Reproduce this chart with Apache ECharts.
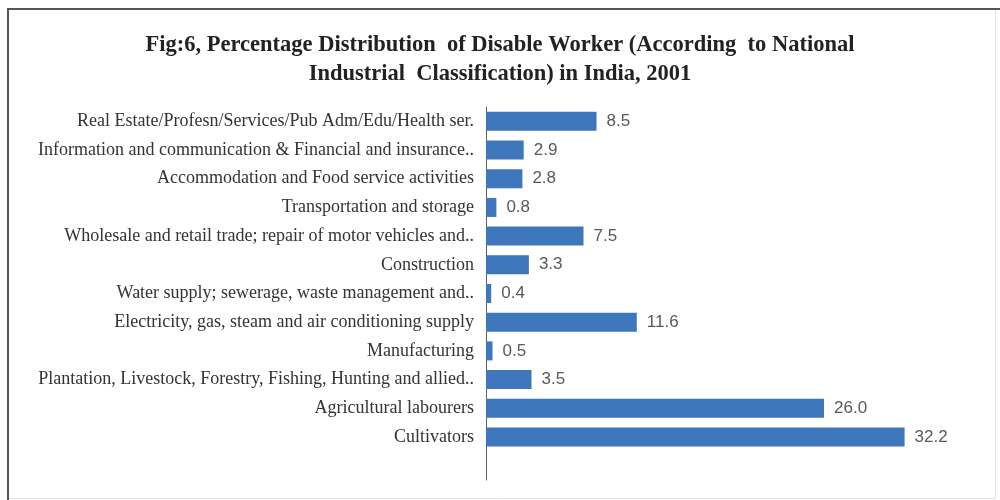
<!DOCTYPE html>
<html>
<head>
<meta charset="utf-8">
<script src="https://cdn.jsdelivr.net/npm/echarts@6/dist/echarts.min.js"></script>
<style>
  html, body { margin: 0; padding: 0; background: #fff; }
  #chart { width: 1000px; height: 500px; }
</style>
</head>
<body>
<div id="chart"></div>
<script>
// categories, top to bottom (last one is the empty slot Excel leaves at the bottom)
const categories = [
  'Real Estate/Profesn/Services/Pub Adm/Edu/Health ser.',
  'Information and communication & Financial and insurance..',
  'Accommodation and Food service activities',
  'Transportation and storage',
  'Wholesale and retail trade; repair of motor vehicles and..',
  'Construction',
  'Water supply; sewerage, waste management and..',
  'Electricity, gas, steam and air conditioning supply',
  'Manufacturing',
  'Plantation, Livestock, Forestry, Fishing, Hunting and allied..',
  'Agricultural labourers',
  'Cultivators',
  ''
];
const percentValues = [8.5, 2.9, 2.8, 0.8, 7.5, 3.3, 0.4, 11.6, 0.5, 3.5, 26.0, 32.2, null];

const titleLines = [
  'Fig:6, Percentage Distribution  of Disable Worker (According  to National',
  'Industrial  Classification) in India, 2001'
];

const chart = echarts.init(document.getElementById('chart'));

chart.setOption({
  backgroundColor: '#fff',
  animation: false,
  title: {
    text: titleLines.join('\n'),
    left: 'center',
    top: 26,
    textStyle: {
      fontFamily: 'Liberation Serif',
      fontWeight: 'bold',
      fontSize: 22.5,
      lineHeight: 29,
      color: '#222'
    }
  },
  grid: {
    left: 486,
    right: 59,
    top: 107,
    bottom: 20
  },
  xAxis: {
    type: 'value',
    min: 0,
    max: 35,
    show: false
  },
  yAxis: {
    type: 'category',
    inverse: true,
    data: categories,
    axisLine: { show: true, lineStyle: { color: '#5f5f5f', width: 1 } },
    axisTick: { show: false },
    axisLabel: {
      margin: 12,
      fontFamily: 'Liberation Serif',
      fontSize: 18,
      color: '#333'
    }
  },
  series: [
    {
      type: 'bar',
      data: percentValues,
      barWidth: 19,
      itemStyle: { color: '#3f77bc' },
      label: {
        show: true,
        position: 'right',
        distance: 10,
        fontFamily: 'Liberation Sans',
        fontSize: 17,
        color: '#595959',
        formatter: p => p.value == null ? '' : p.value.toFixed(1)
      }
    }
  ],
  graphic: [
    // frame: dark top/left edges, light right/bottom edges
    { type: 'line', shape: { x1: 7, y1: 9, x2: 1000, y2: 9 }, style: { stroke: '#555', lineWidth: 2 } },
    { type: 'line', shape: { x1: 8, y1: 8, x2: 8, y2: 500 }, style: { stroke: '#555', lineWidth: 2 } },
    { type: 'line', shape: { x1: 995.5, y1: 10, x2: 995.5, y2: 498 }, style: { stroke: '#e3e3e3', lineWidth: 1 } },
    { type: 'line', shape: { x1: 9, y1: 498.5, x2: 996, y2: 498.5 }, style: { stroke: '#e3e3e3', lineWidth: 1 } }
  ]
});
</script>
</body>
</html>
